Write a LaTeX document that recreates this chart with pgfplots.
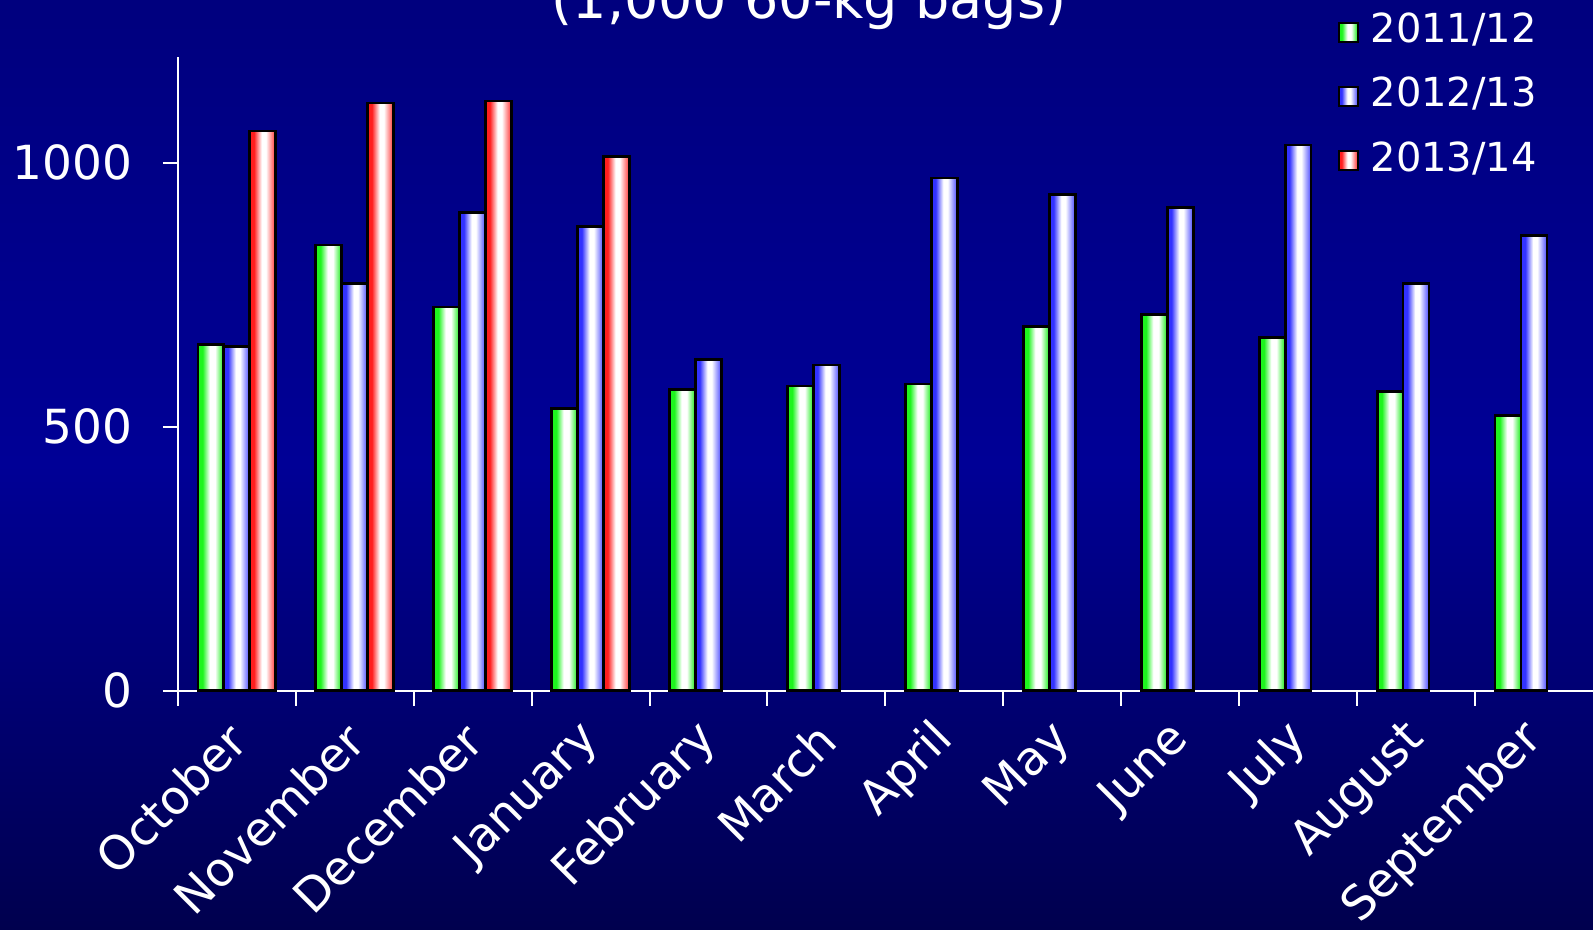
\documentclass[border=0pt]{standalone}
\usepackage{pgfplots}
\pgfplotsset{compat=1.18}
\usepackage{fontspec}
\setmainfont{DejaVu Sans}
\definecolor{bgtop}{RGB}{0,0,126}
\definecolor{bgmid}{RGB}{0,0,150}
\definecolor{bgbot}{RGB}{0,0,78}
\definecolor{grn}{RGB}{30,245,30}
\definecolor{grnr}{RGB}{60,240,60}
\definecolor{blu}{RGB}{50,50,255}
\definecolor{blur}{RGB}{100,100,255}
\definecolor{rd}{RGB}{255,30,30}
\definecolor{rdr}{RGB}{255,80,80}
\pgfdeclarehorizontalshading{gsh}{100bp}{color(0bp)=(grn); color(25bp)=(grn); color(34bp)=(grn); color(48bp)=(white); color(58bp)=(white); color(72bp)=(grnr); color(100bp)=(grnr)}
\pgfdeclarehorizontalshading{bsh}{100bp}{color(0bp)=(blu); color(25bp)=(blu); color(33bp)=(blu); color(48bp)=(white); color(56bp)=(white); color(72bp)=(blur); color(100bp)=(blur)}
\pgfdeclarehorizontalshading{rsh}{100bp}{color(0bp)=(rd); color(25bp)=(rd); color(33bp)=(rd); color(48bp)=(white); color(56bp)=(white); color(72bp)=(rdr); color(100bp)=(rdr)}
\pgfplotsset{
  gbar/.style={ybar, bar width=0.22, bar shift=-0.22, draw=black, line width=1.3pt, shade, shading=gsh},
  bbar/.style={ybar, bar width=0.22, bar shift=0, draw=black, line width=1.3pt, shade, shading=bsh},
  rbar/.style={ybar, bar width=0.22, bar shift=0.22, draw=black, line width=1.3pt, shade, shading=rsh},
}
\begin{document}
\begin{tikzpicture}[x=1pt,y=1pt]
\shade[top color=bgtop, bottom color=bgbot, middle color=bgmid] (0,0) rectangle (796.5,465);
\node[text=white, font=\fontsize{27}{30}\selectfont, anchor=base, inner sep=0pt] at (404.5,455.5) {(1,000 60-kg bags)};
\begin{axis}[
  at={(88.9pt,119.6pt)}, anchor=south west, scale only axis,
  width=707.6pt, height=316.9pt,
  xmin=-0.5, xmax=11.5, ymin=0, ymax=1200,
  axis x line*=bottom, axis y line*=left,
  axis line style={white, line width=1pt, -},
  every outer x axis line/.append style={-},
  every outer y axis line/.append style={-},
  tick style={white, line width=1pt},
  tick align=outside, major tick length=7.5pt,
  ytick={0,500,1000}, yticklabels={0,500,1000},
  yticklabel style={text=white, font=\fontsize{23.5}{26}\selectfont, anchor=east, inner sep=0pt, xshift=-15pt},
  xtick={-0.5,0.5,...,10.5}, xticklabels={},
  extra x ticks={0,1,2,3,4,5,6,7,8,9,10,11},
  extra x tick labels={October,November,December,January,February,March,April,May,June,July,August,September},
  extra x tick style={tick style={draw=none}, xticklabel style={text=white, font=\fontsize{23.5}{26}\selectfont, inner sep=0pt, xshift=0.5pt, yshift=-13pt, rotate=45, anchor=east}},
  legend cell align=left,
  legend image code/.code={\draw[#1, line width=1pt] (0pt,-4.75pt) rectangle (9.5pt,4.75pt);},
  legend style={at={(0.815,1.0814)}, anchor=north west, draw=none, fill=none, text=white,
    font=\fontsize{20}{22}\selectfont, row sep=9.6pt, column sep=4pt,
    nodes={text height=14.5pt, text depth=4pt, inner sep=2pt}},
  clip=false,
]
% first bar of each series carries the legend entry
\addplot[gbar] coordinates {(0,656)};
\addlegendentry{2011/12}
\addplot[bbar] coordinates {(0,652)};
\addlegendentry{2012/13}
\addplot[rbar] coordinates {(0,1060)};
\addlegendentry{2013/14}
% 2011/12
\addplot[gbar, forget plot] coordinates {(1,844)};
\addplot[gbar, forget plot] coordinates {(2,727)};
\addplot[gbar, forget plot] coordinates {(3,535)};
\addplot[gbar, forget plot] coordinates {(4,571)};
\addplot[gbar, forget plot] coordinates {(5,577)};
\addplot[gbar, forget plot] coordinates {(6,581)};
\addplot[gbar, forget plot] coordinates {(7,690)};
\addplot[gbar, forget plot] coordinates {(8,713)};
\addplot[gbar, forget plot] coordinates {(9,669)};
\addplot[gbar, forget plot] coordinates {(10,567)};
\addplot[gbar, forget plot] coordinates {(11,521)};
% 2012/13
\addplot[bbar, forget plot] coordinates {(1,771)};
\addplot[bbar, forget plot] coordinates {(2,906)};
\addplot[bbar, forget plot] coordinates {(3,879)};
\addplot[bbar, forget plot] coordinates {(4,627)};
\addplot[bbar, forget plot] coordinates {(5,617)};
\addplot[bbar, forget plot] coordinates {(6,971)};
\addplot[bbar, forget plot] coordinates {(7,940)};
\addplot[bbar, forget plot] coordinates {(8,915)};
\addplot[bbar, forget plot] coordinates {(9,1033)};
\addplot[bbar, forget plot] coordinates {(10,771)};
\addplot[bbar, forget plot] coordinates {(11,862)};
% 2013/14
\addplot[rbar, forget plot] coordinates {(1,1113)};
\addplot[rbar, forget plot] coordinates {(2,1117)};
\addplot[rbar, forget plot] coordinates {(3,1012)};
\end{axis}
\pgfresetboundingbox
\useasboundingbox (0,0) rectangle (796.5,465);
\end{tikzpicture}
\end{document}
